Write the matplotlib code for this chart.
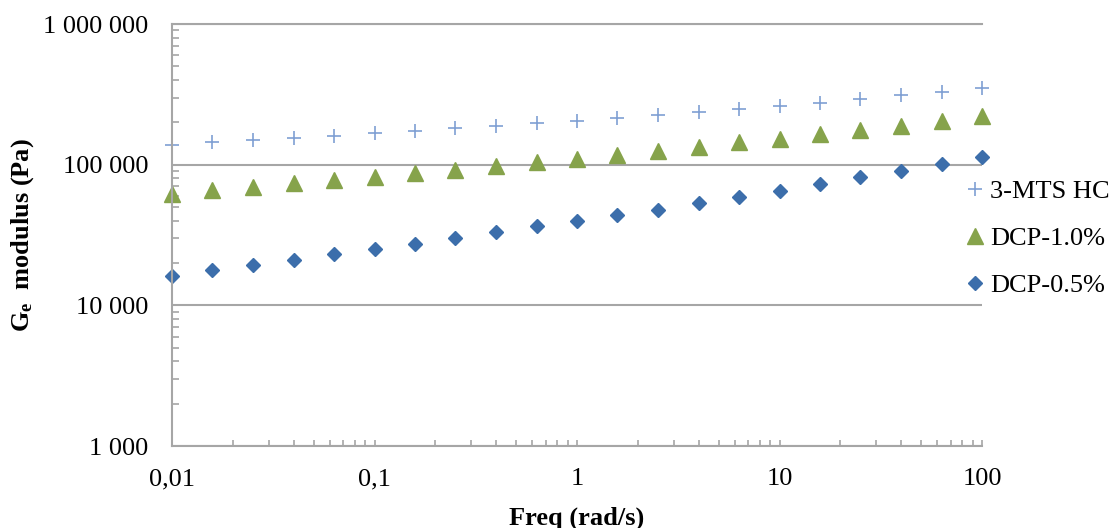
import numpy as np
import matplotlib
matplotlib.use("Agg")
import matplotlib.pyplot as plt
from matplotlib.ticker import FixedLocator, FixedFormatter, LogLocator

# Frequency sweep (rad/s), 5 points per decade
freq = [0.01, 0.0158, 0.0251, 0.0398, 0.0631,
        0.1, 0.158, 0.251, 0.398, 0.631,
        1, 1.58, 2.51, 3.98, 6.31,
        10, 15.8, 25.1, 39.8, 63.1, 100]

# Ge modulus (Pa)
mts_hc = [138000, 144300, 149700, 154000, 160700,
          167100, 173500, 181400, 188300, 196800,
          205000, 213700, 225500, 235700, 247500,
          261200, 275800, 291500, 312800, 330200, 352500]
dcp_10 = [62200, 66100, 69700, 73700, 77800,
          82150, 87500, 92400, 97500, 104100,
          110100, 118100, 125500, 134000, 143800,
          151700, 164700, 176400, 188900, 203700, 220600]
dcp_05 = [16240, 17840, 19350, 21100, 23060,
          25150, 27290, 30110, 33220, 36470,
          39900, 43650, 47860, 53400, 58910,
          65310, 72900, 81330, 90160, 101100, 113400]

x_ticks = [0.01, 0.1, 1, 10, 100]
x_labels = ["0,01", "0,1", "1", "10", "100"]
y_ticks = [1000, 10000, 100000, 1000000]
y_labels = ["1 000", "10 000", "100 000", "1 000 000"]

plt.rcParams['font.family'] = ['Liberation Serif', 'DejaVu Serif']
plt.rcParams['mathtext.fontset'] = 'custom'
plt.rcParams['mathtext.rm'] = 'Liberation Serif:bold'
plt.rcParams['mathtext.it'] = 'Liberation Serif:bold'
plt.rcParams['mathtext.bf'] = 'Liberation Serif:bold'

grey = '#A6A6A6'
fs = 19

fig = plt.figure(figsize=(11.10, 5.28), dpi=100)
ax = fig.add_axes([0.155, 0.1553, 0.7297, 0.7992])

ax.plot(freq, mts_hc, linestyle='none', marker='+', markersize=10.5,
        markeredgewidth=1.2, color='#7F9FD3', label='3-MTS HC', clip_on=False)
ax.plot(freq, dcp_10, linestyle='none', marker='^', markersize=11,
        color='#86A34B', label='DCP-1.0%', clip_on=False)
ax.plot(freq, dcp_05, linestyle='none', marker='D', markersize=7.4,
        color='#3C6EAB', label='DCP-0.5%', clip_on=False)

ax.set_xscale('log')
ax.set_yscale('log')
ax.set_xlim(0.01, 100)
ax.set_ylim(1000, 1000000)

ax.xaxis.set_major_locator(FixedLocator(x_ticks))
ax.xaxis.set_major_formatter(FixedFormatter(x_labels))
ax.yaxis.set_major_locator(FixedLocator(y_ticks))
ax.yaxis.set_major_formatter(FixedFormatter(y_labels))
ax.xaxis.set_minor_locator(LogLocator(base=10, subs=np.arange(2, 10)))
ax.yaxis.set_minor_locator(LogLocator(base=10, subs=np.arange(2, 10)))
ax.xaxis.set_minor_formatter(FixedFormatter([]))
ax.yaxis.set_minor_formatter(FixedFormatter([]))

ax.tick_params(axis='both', which='both', direction='in', color=grey, width=1.2)
ax.tick_params(axis='x', which='both', length=4, labelsize=fs, pad=16)
ax.tick_params(axis='y', which='major', length=0, labelsize=fs, pad=17)
ax.tick_params(axis='y', which='minor', length=5)

ax.grid(True, axis='y', which='major', color=grey, linewidth=1.5)
ax.set_axisbelow(True)
ax.spines['right'].set_visible(False)
for side in ['left', 'bottom', 'top']:
    ax.spines[side].set_color(grey)
    ax.spines[side].set_linewidth(1.5)

ax.set_xlabel('Freq (rad/s)', fontsize=fs, fontweight='bold', labelpad=12)
ax.set_ylabel(r'G$_\mathrm{e}$  modulus (Pa)', fontsize=fs, fontweight='bold',
              va='center')
ax.yaxis.set_label_coords(-0.184, 0.5)

ax.legend(loc='center left', frameon=False,
          fontsize=fs, handlelength=0.6, handletextpad=0.25, labelspacing=0.9,
          borderaxespad=0, borderpad=0)
leg = ax.get_legend()
leg.set_bbox_to_anchor((1 - 0.018, 0.4917), transform=ax.transAxes)

fig.savefig('out.png', dpi=100)
